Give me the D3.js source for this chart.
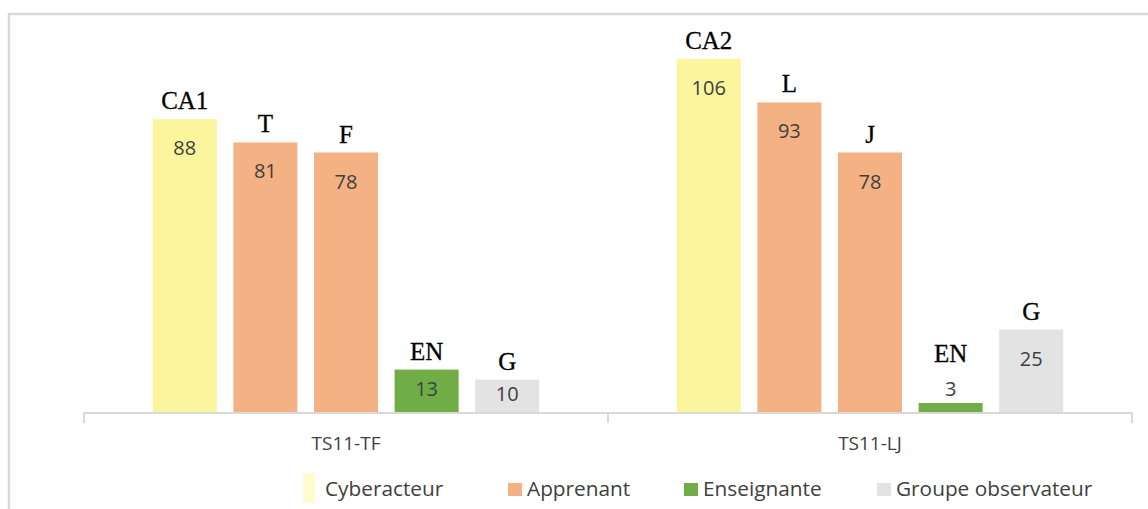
<!DOCTYPE html>
<html><head><meta charset="utf-8">
<script src="https://cdn.jsdelivr.net/npm/d3@7"></script>
<style>html,body{margin:0;padding:0;background:#fff;}svg{display:block;}</style>
</head><body>
<svg id="chart" width="1148" height="509"></svg>
<script>
const groups = ["TS11-TF", "TS11-LJ"];
const seriesNames = ["Cyberacteur", "Apprenant", "Enseignante", "Groupe observateur"];
// bar slots per group: series index for each of 5 bars
const barSeries = [0, 1, 1, 2, 3];
const valuesTF = [88, 81, 78, 13, 10];
const valuesLJ = [106, 93, 78, 3, 25];
const letterTF = ["CA1", "T", "F", "EN", "G"];
const letterLJ = ["CA2", "L", "J", "EN", "G"];
const barColors = ["#fbf69d", "#f4b183", "#70ad47", "#e3e3e3"];
const legendColors = ["#fffdd0", "#f4b183", "#70ad47", "#e3e3e3"];

const svg = d3.select("#chart");
const baseY = 413;

// frame
svg.append("rect").attr("x", 9).attr("y", 14).attr("width", 1300).attr("height", 700)
  .attr("fill", "none").attr("stroke", "#d9d9d9").attr("stroke-width", 2.5);

const x0 = d3.scaleBand().domain(groups).range([84, 1132]).padding(0);
const x1 = d3.scaleBand().domain(d3.range(5)).range([0, x0.bandwidth()])
  .paddingInner(0.206).paddingOuter(0.853);
const y = d3.scaleLinear().domain([0, 106]).range([baseY, 59]);

const data = [];
groups.forEach((g, gi) => {
  const vals = gi === 0 ? valuesTF : valuesLJ;
  const lets = gi === 0 ? letterTF : letterLJ;
  vals.forEach((v, i) => data.push({g, i, v, letter: lets[i], s: barSeries[i]}));
});

const bars = svg.append("g");
bars.selectAll("rect").data(data).join("rect")
  .attr("x", d => x0(d.g) + x1(d.i))
  .attr("y", d => y(d.v))
  .attr("width", x1.bandwidth())
  .attr("height", d => baseY - y(d.v))
  .attr("fill", d => barColors[d.s]);

// axis
const axisG = svg.append("g").attr("transform", `translate(0,${baseY})`);
axisG.append("line").attr("x1", x0.range()[0]).attr("x2", x0.range()[1])
  .attr("y1", 0).attr("y2", 0).attr("stroke", "#d9d9d9").attr("stroke-width", 2);
const tickX = [x0.range()[0], ...groups.map(g => x0(g) + x0.bandwidth())];
axisG.selectAll("line.tick").data(tickX).join("line").attr("class", "tick")
  .attr("x1", d => d).attr("x2", d => d).attr("y1", 0).attr("y2", 10)
  .attr("stroke", "#d9d9d9").attr("stroke-width", 2);
axisG.selectAll("text").data(groups).join("text")
  .attr("x", d => x0(d) + x0.bandwidth() / 2).attr("y", 37)
  .attr("text-anchor", "middle").attr("font-family", "Open Sans").attr("font-size", 19)
  .attr("fill", "#404040").text(d => d);

// value labels
function valueBaseline(d) {
  const top = y(d.v), h = baseY - top;
  if (h < 25) return top - 7;
  return top + Math.min(36, h / 2 + 5);
}
svg.append("g").selectAll("text").data(data).join("text")
  .attr("x", d => x0(d.g) + x1(d.i) + x1.bandwidth() / 2)
  .attr("y", valueBaseline)
  .attr("text-anchor", "middle").attr("font-family", "Open Sans").attr("font-size", 20)
  .attr("fill", "#404040").text(d => d.v);

// letter labels
svg.append("g").selectAll("text").data(data).join("text")
  .attr("x", d => x0(d.g) + x1(d.i) + x1.bandwidth() / 2)
  .attr("y", d => {
    const top = y(d.v), h = baseY - top;
    return h < 25 ? top - 41 : top - 10;
  })
  .attr("text-anchor", "middle").attr("font-family", "Liberation Serif").attr("font-size", 25)
  .attr("fill", "#000").attr("stroke", "#000").attr("stroke-width", 0.3).text(d => d.letter);

// legend
const legendX = [303, 508, 684, 877];
const lg = svg.append("g");
seriesNames.forEach((n, i) => {
  if (i === 0) {
    lg.append("rect").attr("x", legendX[i]).attr("y", 473).attr("width", 12).attr("height", 30)
      .attr("fill", legendColors[i]);
  } else {
    lg.append("rect").attr("x", legendX[i]).attr("y", 483).attr("width", 14).attr("height", 13)
      .attr("fill", legendColors[i]);
  }
  lg.append("text").attr("x", legendX[i] + (i === 0 ? 22 : 19)).attr("y", 496)
    .attr("font-family", "Open Sans").attr("font-size", 20.8).attr("fill", "#404040").text(n);
});
</script>
</body></html>
